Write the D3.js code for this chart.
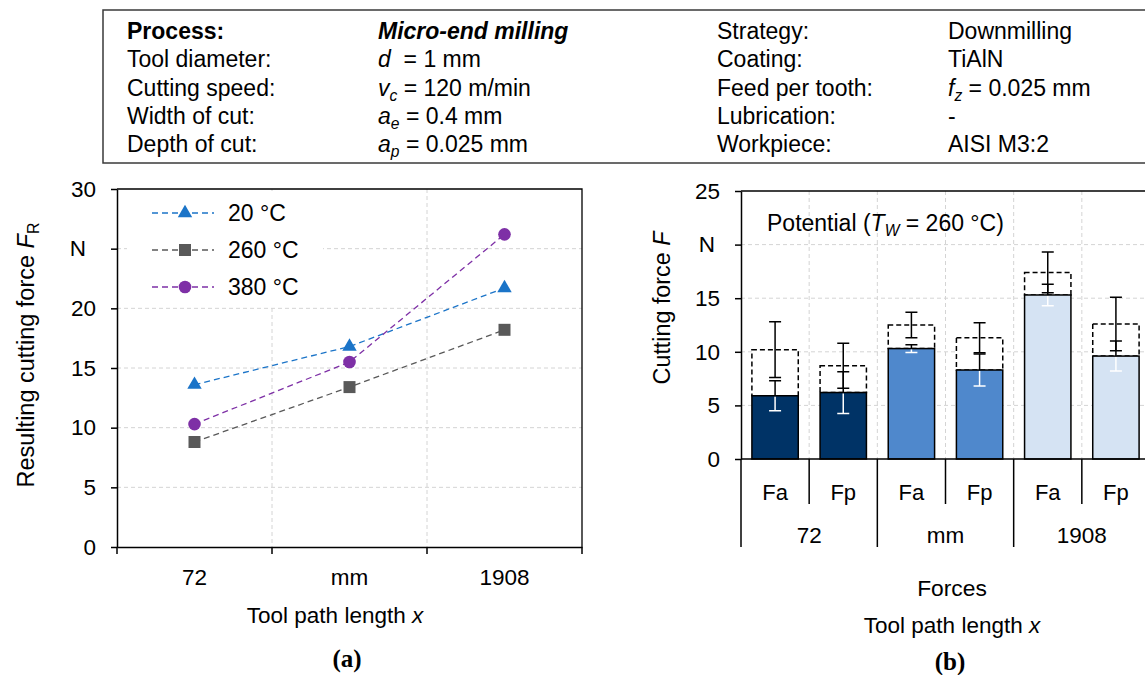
<!DOCTYPE html>
<html>
<head>
<meta charset="utf-8">
<script src="https://cdn.jsdelivr.net/npm/d3@7"></script>
<style>
  body { margin: 0; background: #fff; }
  svg { display: block; font-family: "Liberation Sans", Arial, sans-serif; }
  text { white-space: pre; }
</style>
</head>
<body>
<svg id="chart" width="1145" height="675"></svg>
<script>
// ---- data ----
const paramLabelsLeft = ['Process:', 'Tool diameter:', 'Cutting speed:', 'Width of cut:', 'Depth of cut:'];
const paramValuesLeft = [
  [['Micro-end milling', 'bi']],
  [['d', 'i'], ['  = 1 mm', '']],
  [['v', 'i'], ['c', 'si'], [' = 120 m/min', '']],
  [['a', 'i'], ['e', 'si'], [' = 0.4 mm', '']],
  [['a', 'i'], ['p', 'si'], [' = 0.025 mm', '']]
];
const paramLabelsRight = ['Strategy:', 'Coating:', 'Feed per tooth:', 'Lubrication:', 'Workpiece:'];
const paramValuesRight = [
  [['Downmilling', '']],
  [['TiAlN', '']],
  [['f', 'i'], ['z', 'si'], [' = 0.025 mm', '']],
  [['-', '']],
  [['AISI M3:2', '']]
];

const pathCats = ['72', 'mm', '1908'];
const tempSeries = ['20 °C', '260 °C', '380 °C'];
const force20 = [13.6, 16.8, 21.7];
const force260 = [8.8, 13.4, 18.2];
const force380 = [10.3, 15.5, 26.2];
const leftTicks = [0, 5, 10, 15, 20, 25, 30];

const forceNames = ['Fa', 'Fp'];
const measured = [5.9, 6.2, 10.3, 8.3, 15.3, 9.6];
const measuredErr = [1.4, 1.95, 0.36, 1.5, 1.0, 1.4];
const potential = [10.2, 8.7, 12.5, 11.3, 17.4, 12.6];
const potentialErr = [2.6, 2.1, 1.2, 1.4, 1.9, 2.5];
const rightTicks = [0, 5, 10, 15, 20, 25];

const seriesColors = ['#1b74c8', '#595959', '#7e30a6'];
const groupColors = ['#003366', '#4f88cc', '#d5e3f3'];
const gridColor = '#d4d4d4';

const svg = d3.select('#chart');

// helper: write runs of text with italic / subscript styles
function writeRuns(textSel, runs) {
  let shifted = false;
  runs.forEach(([t, st]) => {
    const ts = textSel.append('tspan').text(t);
    if (st.includes('b')) ts.attr('font-weight', 'bold');
    if (st.includes('i')) ts.attr('font-style', 'italic');
    if (st.includes('s')) {
      ts.attr('font-size', '0.68em').attr('dy', 5);
      shifted = true;
    } else if (shifted) {
      ts.attr('dy', -5);
      shifted = false;
    }
  });
}

// ---- parameter table ----
const table = svg.append('g').attr('font-size', 23);
table.append('rect')
  .attr('x', 103).attr('y', 10).attr('width', 1080).attr('height', 153)
  .attr('fill', 'none').attr('stroke', '#3a3a3a').attr('stroke-width', 1.5);

const rowY = d3.scaleLinear().domain([0, 4]).range([39, 152]);
paramLabelsLeft.forEach((l, i) => {
  table.append('text').attr('x', 127).attr('y', rowY(i))
    .attr('font-weight', i === 0 ? 'bold' : null).text(l);
  writeRuns(table.append('text').attr('x', 378).attr('y', rowY(i)), paramValuesLeft[i]);
});
paramLabelsRight.forEach((l, i) => {
  table.append('text').attr('x', 717).attr('y', rowY(i)).text(l);
  writeRuns(table.append('text').attr('x', 948).attr('y', rowY(i)), paramValuesRight[i]);
});

// ---- (a) line chart ----
const ga = svg.append('g');
const xa = d3.scaleBand().domain(pathCats).range([117, 582]);
const ya = d3.scaleLinear().domain([0, 30]).range([547, 189]);

// gridlines
ga.append('g').selectAll('line').data(leftTicks.slice(1, -1)).join('line')
  .attr('x1', 117).attr('x2', 582).attr('y1', d => ya(d)).attr('y2', d => ya(d))
  .attr('stroke', gridColor).attr('stroke-dasharray', '4,3');
ga.append('g').selectAll('line').data(pathCats.slice(1)).join('line')
  .attr('x1', d => xa(d)).attr('x2', d => xa(d)).attr('y1', 189).attr('y2', 547)
  .attr('stroke', gridColor).attr('stroke-dasharray', '4,3');

// frame
ga.append('path').attr('d', `M117,189H582V547`).attr('fill', 'none')
  .attr('stroke', '#000').attr('stroke-width', 1.3);

// y axis
const yAxisA = ga.append('g').attr('transform', 'translate(117,0)')
  .call(d3.axisLeft(ya).tickValues(leftTicks).tickSize(6).tickSizeOuter(0)
    .tickFormat(d => d === 25 ? 'N' : d));
yAxisA.selectAll('text').attr('font-size', 22.5).attr('fill', '#000')
  .attr('font-family', '"Liberation Sans", Arial, sans-serif')
  .attr('x', d => d === 25 ? -31 : -21);
yAxisA.selectAll('line, path').attr('stroke', '#000').attr('stroke-width', 1.5);

// x axis
const xAxisA = ga.append('g').attr('transform', 'translate(0,547)')
  .call(d3.axisBottom(xa).tickSize(0).tickSizeOuter(0));
xAxisA.selectAll('text').attr('font-size', 22.5).attr('fill', '#000')
  .attr('font-family', '"Liberation Sans", Arial, sans-serif').attr('dy', 35);
xAxisA.select('path').attr('stroke', '#000').attr('stroke-width', 1.5);
xAxisA.selectAll('.bnd').data(pathCats.map(c => xa(c)).concat([xa.range()[1]])).join('line')
  .attr('x1', d => d).attr('x2', d => d).attr('y1', 0).attr('y2', 7)
  .attr('stroke', '#000').attr('stroke-width', 1.5);

// axis titles
writeRuns(ga.append('text').attr('transform', 'translate(34,355) rotate(-90)')
  .attr('text-anchor', 'middle').attr('font-size', 23.5),
  [['Resulting cutting force ', ''], ['F', 'i'], ['R', 's']]);
writeRuns(ga.append('text').attr('x', 335).attr('y', 623).attr('text-anchor', 'middle').attr('font-size', 22.5),
  [['Tool path length ', ''], ['x', 'i']]);
ga.append('text').attr('x', 347).attr('y', 667).attr('text-anchor', 'middle')
  .attr('font-family', '"Liberation Serif", "DejaVu Serif", serif').attr('font-weight', 'bold')
  .attr('font-size', 25).text('(a)');

// legend
const legend = ga.append('g');
legend.append('rect').attr('x', 127).attr('y', 191).attr('width', 196).attr('height', 115).attr('fill', '#fff');
const legY = d3.scaleLinear().domain([0, 2]).range([213, 287]);
const seriesData = [force20, force260, force380];
const markerTypes = [d3.symbolTriangle, d3.symbolSquare, d3.symbolCircle];
const markerSizes = [90, 144, 125];

tempSeries.forEach((name, i) => {
  legend.append('line').attr('x1', 152).attr('x2', 214).attr('y1', legY(i)).attr('y2', legY(i))
    .attr('stroke', seriesColors[i]).attr('stroke-width', 1.3).attr('stroke-dasharray', '6,4');
  legend.append('path').attr('d', d3.symbol(markerTypes[i], markerSizes[i])())
    .attr('transform', `translate(185,${legY(i)})`).attr('fill', seriesColors[i]);
  legend.append('text').attr('x', 228).attr('y', legY(i) + 8).attr('font-size', 23).text(name);
});

// series
seriesData.forEach((vals, i) => {
  const pts = vals.map((v, j) => [xa(pathCats[j]) + xa.bandwidth() / 2, ya(v)]);
  ga.append('path').attr('d', d3.line()(pts)).attr('fill', 'none')
    .attr('stroke', seriesColors[i]).attr('stroke-width', 1.3).attr('stroke-dasharray', '6,4');
  ga.append('g').selectAll('path').data(pts).join('path')
    .attr('d', d3.symbol(markerTypes[i], markerSizes[i])())
    .attr('transform', d => `translate(${d[0]},${d[1]})`).attr('fill', seriesColors[i]);
});

// ---- (b) bar chart ----
const gb = svg.append('g');
const slots = [];
pathCats.forEach(c => forceNames.forEach(f => slots.push(c + '|' + f)));
const xb = d3.scaleBand().domain(slots).range([741, 1150]).paddingInner(0.32).paddingOuter(0.16);
const step = xb.step();
const yb = d3.scaleLinear().domain([0, 25]).range([459, 191]);
const slotLeft = s => xb(s) - step * 0.16;

// gridlines
gb.append('g').selectAll('line').data(rightTicks.slice(1, -1)).join('line')
  .attr('x1', 741).attr('x2', 1150).attr('y1', d => yb(d)).attr('y2', d => yb(d))
  .attr('stroke', gridColor).attr('stroke-dasharray', '4,3');
gb.append('g').selectAll('line').data(slots.slice(1)).join('line')
  .attr('x1', d => slotLeft(d)).attr('x2', d => slotLeft(d)).attr('y1', 191).attr('y2', 459)
  .attr('stroke', gridColor).attr('stroke-dasharray', '4,3');

// frame top
gb.append('line').attr('x1', 741).attr('x2', 1150).attr('y1', 191).attr('y2', 191)
  .attr('stroke', '#000').attr('stroke-width', 1.3);

// potential (dashed boxes)
gb.append('g').selectAll('rect').data(slots).join('rect')
  .attr('x', d => xb(d)).attr('width', xb.bandwidth())
  .attr('y', (d, i) => yb(potential[i])).attr('height', (d, i) => yb(measured[i]) - yb(potential[i]))
  .attr('fill', '#fff').attr('stroke', '#000').attr('stroke-width', 1.5).attr('stroke-dasharray', '5,3');

// measured bars
gb.append('g').selectAll('rect').data(slots).join('rect')
  .attr('x', d => xb(d)).attr('width', xb.bandwidth())
  .attr('y', (d, i) => yb(measured[i])).attr('height', (d, i) => yb(0) - yb(measured[i]))
  .attr('fill', (d, i) => groupColors[Math.floor(i / 2)]).attr('stroke', '#000').attr('stroke-width', 1.5);

// error bars
const cap = 6;
slots.forEach((s, i) => {
  const cx = xb(s) + xb.bandwidth() / 2;
  // potential: black
  const pt = yb(potential[i] + potentialErr[i]), pb = yb(potential[i] - potentialErr[i]);
  gb.append('path').attr('d', `M${cx},${pt}V${pb}M${cx - cap},${pt}H${cx + cap}M${cx - cap},${pb}H${cx + cap}`)
    .attr('stroke', '#000').attr('stroke-width', 1.5).attr('fill', 'none');
  // measured: black above the bar top, white inside it
  const top = yb(measured[i]);
  const mt = yb(measured[i] + measuredErr[i]), mb = yb(measured[i] - measuredErr[i]);
  gb.append('path').attr('d', `M${cx},${mt}V${top}M${cx - cap},${mt}H${cx + cap}`)
    .attr('stroke', '#000').attr('stroke-width', 1.5).attr('fill', 'none');
  gb.append('path').attr('d', `M${cx},${top + 1}V${mb}M${cx - cap},${mb}H${cx + cap}`)
    .attr('stroke', '#fff').attr('stroke-width', 1.5).attr('fill', 'none');
});

// y axis
const yAxisB = gb.append('g').attr('transform', 'translate(741,0)')
  .call(d3.axisLeft(yb).tickValues(rightTicks).tickSize(6).tickSizeOuter(0)
    .tickFormat(d => d === 20 ? 'N' : d));
yAxisB.selectAll('text').attr('font-size', 22.5).attr('fill', '#000')
  .attr('font-family', '"Liberation Sans", Arial, sans-serif')
  .attr('x', d => d === 20 ? -26 : -21);
yAxisB.selectAll('line, path').attr('stroke', '#000').attr('stroke-width', 1.5);

// category axis (two levels)
gb.append('line').attr('x1', 741).attr('x2', 1150).attr('y1', 459).attr('y2', 459)
  .attr('stroke', '#000').attr('stroke-width', 1.5);
const bounds = slots.map(s => slotLeft(s)).concat([1150]);
gb.append('g').selectAll('line').data(bounds).join('line')
  .attr('x1', d => d).attr('x2', d => d).attr('y1', 459)
  .attr('y2', (d, i) => i % 2 === 0 ? 547 : 504)
  .attr('stroke', '#000').attr('stroke-width', 1.5);
gb.append('g').selectAll('text').data(slots).join('text')
  .attr('x', d => xb(d) + xb.bandwidth() / 2).attr('y', 500).attr('text-anchor', 'middle')
  .attr('font-size', 22).text(d => d.split('|')[1]);
gb.append('g').selectAll('text').data(pathCats).join('text')
  .attr('x', d => slotLeft(d + '|Fa') + step).attr('y', 543).attr('text-anchor', 'middle')
  .attr('font-size', 22.5).text(d => d);

// titles
writeRuns(gb.append('text').attr('transform', 'translate(670,308) rotate(-90)')
  .attr('text-anchor', 'middle').attr('font-size', 23.3),
  [['Cutting force ', ''], ['F', 'i']]);
writeRuns(gb.append('text').attr('x', 767).attr('y', 231).attr('font-size', 23),
  [['Potential (', ''], ['T', 'i'], ['W', 'si'], [' = 260 °C)', '']]);
gb.append('text').attr('x', 952).attr('y', 596).attr('text-anchor', 'middle').attr('font-size', 22.8).text('Forces');
writeRuns(gb.append('text').attr('x', 952).attr('y', 633).attr('text-anchor', 'middle').attr('font-size', 22.5),
  [['Tool path length ', ''], ['x', 'i']]);
gb.append('text').attr('x', 950).attr('y', 670).attr('text-anchor', 'middle')
  .attr('font-family', '"Liberation Serif", "DejaVu Serif", serif').attr('font-weight', 'bold')
  .attr('font-size', 25).text('(b)');
</script>
</body>
</html>
